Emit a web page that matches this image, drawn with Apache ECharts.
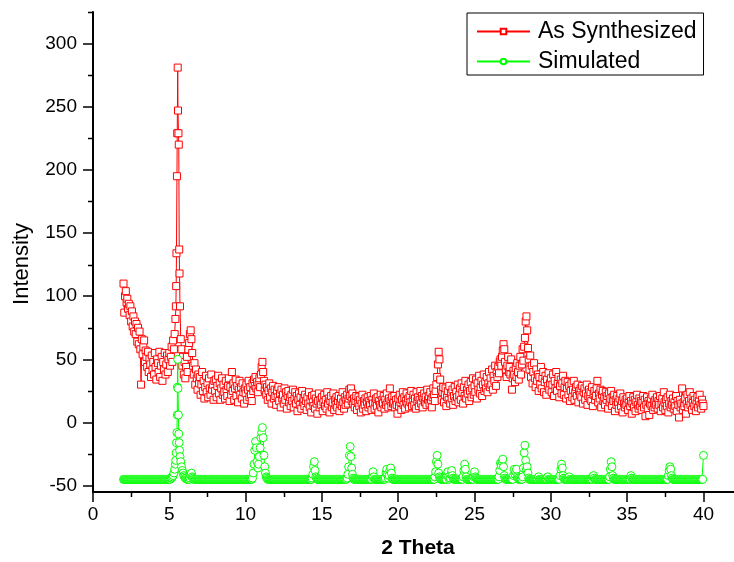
<!DOCTYPE html>
<html>
<head>
<meta charset="utf-8">
<script src="https://cdn.jsdelivr.net/npm/echarts@6/dist/echarts.min.js"></script>
<style>
html, body { margin: 0; padding: 0; background: #fff; }
#chart { width: 734px; height: 562px; }
</style>
</head>
<body>
<div id="chart"></div>
<script>
// Powder pattern sampled every 0.05 deg 2-theta from 2.00 to 40.00
const thetaStart = 2.0;
const thetaStep = 0.05;

// Measured pattern, one row per degree (20 samples per row)
const synthesized = [
  110, 87, 100, 104, 95, 98, 90, 94, 85, 92, 80, 88, 76, 84, 72, 80, 70, 78, 64, 75,
  62, 72, 58, 30, 66, 54, 60, 65, 48, 57, 52, 44, 56, 40, 50, 46, 36, 53, 42, 48,
  38, 55, 44, 34, 50, 47, 40, 56, 36, 45, 52, 33, 48, 42, 55, 38, 46, 53, 40, 50,
  55, 45, 52, 60, 48, 65, 58, 70, 82, 108, 195, 281, 229, 137, 92, 66, 58, 45, 52, 38,
  48, 35, 44, 52, 40, 58, 63, 70, 73, 66, 55, 45, 38, 47, 30, 42, 35, 26, 38, 31,
  36, 22, 30, 40, 25, 33, 19, 28, 37, 24, 31, 20, 35, 27, 22, 38, 26, 30, 18, 33,
  25, 34, 20, 29, 37, 23, 31, 18, 27, 35, 22, 30, 24, 19, 33, 26, 21, 29, 35, 17,
  28, 22, 40, 25, 31, 18, 27, 34, 21, 29, 16, 26, 33, 22, 28, 19, 31, 24, 15, 27,
  23, 30, 18, 26, 33, 20, 28, 22, 17, 31, 25, 34, 29, 36, 27, 32, 24, 30, 35, 28,
  38, 44, 48, 40, 33, 26, 30, 22, 28, 18, 25, 31, 20, 27, 15, 24, 29, 19, 26, 21,
  14, 25, 20, 28, 17, 23, 12, 26, 19, 22, 15, 27, 18, 24, 11, 21, 25, 16, 20, 13,
  22, 17, 26, 12, 19, 24, 15, 21, 9, 18, 23, 14, 20, 11, 25, 16, 19, 13, 22, 17,
  10, 20, 15, 24, 12, 18, 8, 21, 16, 13, 22, 11, 19, 15, 7, 17, 23, 12, 18, 14,
  20, 9, 16, 22, 13, 18, 11, 24, 15, 19, 8, 17, 21, 12, 16, 23, 10, 18, 14, 20,
  12, 17, 21, 9, 15, 19, 13, 24, 16, 11, 20, 14, 18, 22, 15, 19, 26, 21, 27, 17,
  23, 15, 19, 12, 17, 21, 10, 16, 20, 13, 18, 8, 15, 22, 11, 17, 14, 19, 9, 16,
  20, 12, 17, 14, 21, 10, 18, 15, 23, 11, 16, 19, 13, 20, 8, 17, 14, 22, 12, 18,
  15, 21, 11, 18, 14, 23, 16, 12, 19, 27, 17, 13, 20, 15, 16, 21, 12, 18, 14, 7,
  19, 13, 22, 16, 10, 18, 24, 14, 20, 11, 17, 23, 15, 19, 12, 21, 16, 25, 13, 18,
  22, 14, 19, 11, 24, 17, 20, 13, 18, 25, 15, 21, 12, 19, 23, 16, 20, 14, 26, 18,
  21, 15, 24, 18, 12, 20, 27, 22, 17, 25, 30, 36, 46, 56, 50, 34, 26, 18, 24, 28,
  16, 22, 27, 13, 20, 25, 18, 29, 15, 23, 19, 26, 14, 21, 28, 17, 24, 20, 30, 16,
  22, 27, 18, 31, 24, 15, 28, 21, 33, 19, 26, 23, 30, 17, 25, 32, 20, 27, 35, 22,
  29, 24, 34, 19, 31, 26, 37, 23, 28, 33, 21, 30, 38, 25, 32, 27, 36, 24, 31, 40,
  28, 35, 30, 42, 26, 37, 33, 45, 29, 40, 36, 44, 39, 48, 50, 45, 52, 57, 62, 58,
  48, 42, 36, 45, 52, 40, 44, 38, 50, 26, 35, 41, 38, 32, 43, 36, 47, 40, 34, 45,
  52, 38, 46, 58, 49, 60, 67, 80, 84, 73, 59, 50, 42, 53, 36, 45, 31, 40, 47, 35,
  28, 42, 33, 38, 25, 36, 30, 44, 27, 35, 40, 24, 32, 37, 22, 34, 29, 39, 26, 31,
  35, 24, 30, 38, 21, 33, 27, 40, 25, 31, 36, 20, 29, 34, 23, 31, 37, 22, 28, 33,
  19, 27, 32, 22, 29, 17, 25, 31, 20, 26, 33, 18, 24, 28, 21, 30, 16, 25, 22, 27,
  20, 29, 15, 24, 27, 18, 23, 30, 14, 21, 26, 19, 24, 17, 28, 13, 22, 25, 18, 21,
  27, 33, 16, 23, 19, 26, 12, 22, 25, 17, 20, 14, 24, 18, 21, 11, 23, 16, 19, 25,
  13, 20, 17, 22, 9, 18, 14, 21, 16, 11, 19, 23, 13, 17, 8, 20, 15, 12, 18, 14,
  19, 10, 16, 21, 13, 17, 7, 15, 20, 12, 18, 9, 16, 22, 14, 11, 19, 13, 17, 10,
  16, 21, 12, 18, 5, 14, 20, 11, 17, 6, 15, 19, 13, 22, 10, 16, 12, 18, 14, 20,
  11, 17, 14, 21, 9, 15, 19, 12, 24, 16, 10, 18, 13, 20, 8, 15, 22, 12, 17, 14,
  19, 11, 16, 13, 21, 9, 17, 14, 4, 18, 12, 15, 27, 10, 16, 13, 19, 7, 15, 22,
  12, 17, 24, 14, 19, 10, 16, 21, 13, 18, 9, 15, 20, 12, 17, 22, 14, 11, 18, 15,
  13
];
// Extra readings across the sharp low-angle reflection
const synthesizedPeakX = [5.43, 5.47, 5.52, 5.57, 5.62, 5.67];
const synthesizedPeakY = [92, 134, 229, 247, 220, 118];

// Simulated pattern, offset to a -45 baseline, same sampling
const simulated = [
  -45, -45, -45, -45, -45, -45, -45, -45, -45, -45, -45, -45, -45, -45, -45, -45, -45, -45, -45, -45,
  -45, -45, -45, -45, -45, -45, -45, -45, -45, -45, -45, -45, -45, -45, -45, -45, -45, -45, -45, -45,
  -45, -45, -45, -45, -45, -45, -45, -45, -45, -45, -45, -45, -45, -45, -45, -45, -45, -45, -45, -45,
  -45, -45, -44, -44, -43, -42, -40, -37, -33, -24, -8, 50, 6, -16, -27, -31, -35, -38, -40, -42,
  -43, -44, -44, -45, -45, -45, -45, -44, -42, -40, -43, -44, -45, -45, -45, -45, -45, -45, -45, -45,
  -45, -45, -45, -45, -45, -45, -45, -45, -45, -45, -45, -45, -45, -45, -45, -45, -45, -45, -45, -45,
  -45, -45, -45, -45, -45, -45, -45, -45, -45, -45, -45, -45, -45, -45, -45, -45, -45, -45, -45, -45,
  -45, -45, -45, -45, -45, -45, -45, -45, -45, -45, -45, -45, -45, -45, -45, -45, -45, -45, -45, -45,
  -45, -45, -45, -45, -45, -45, -45, -45, -45, -44, -40, -33, -22, -15, -20, -31, -36, -33, -27, -20,
  -12, -8, -4, -12, -26, -35, -40, -43, -44, -45, -45, -45, -45, -45, -45, -45, -45, -45, -45, -45,
  -45, -45, -45, -45, -45, -45, -45, -45, -45, -45, -45, -45, -45, -45, -45, -45, -45, -45, -45, -45,
  -45, -45, -45, -45, -45, -45, -45, -45, -45, -45, -45, -45, -45, -45, -45, -45, -45, -45, -45, -45,
  -45, -45, -45, -45, -45, -45, -45, -44, -41, -35, -31, -38, -43, -44, -45, -45, -45, -45, -45, -45,
  -45, -45, -45, -45, -45, -45, -45, -45, -45, -45, -45, -45, -45, -45, -45, -45, -45, -45, -45, -45,
  -45, -45, -45, -45, -45, -45, -45, -45, -45, -45, -45, -45, -45, -44, -41, -35, -26, -19, -27, -36,
  -41, -44, -45, -45, -45, -45, -45, -45, -45, -45, -45, -45, -45, -45, -45, -45, -45, -45, -45, -45,
  -45, -45, -45, -45, -45, -45, -43, -39, -43, -45, -45, -45, -45, -45, -45, -45, -45, -45, -45, -45,
  -45, -45, -45, -44, -40, -37, -41, -44, -42, -38, -36, -40, -44, -45, -45, -45, -45, -45, -45, -45,
  -45, -45, -45, -45, -45, -45, -45, -45, -45, -45, -45, -45, -45, -45, -45, -45, -45, -45, -45, -45,
  -45, -45, -45, -45, -45, -45, -45, -45, -45, -45, -45, -45, -45, -45, -45, -45, -45, -45, -45, -45,
  -45, -45, -45, -45, -45, -45, -45, -45, -43, -39, -31, -26, -33, -40, -43, -44, -45, -45, -45, -45,
  -45, -45, -45, -45, -42, -39, -43, -45, -44, -41, -38, -42, -44, -45, -45, -45, -45, -45, -45, -45,
  -45, -45, -45, -45, -45, -43, -38, -33, -37, -43, -45, -45, -45, -45, -45, -45, -45, -45, -45, -43,
  -39, -43, -44, -45, -45, -45, -45, -45, -45, -45, -45, -45, -45, -45, -45, -45, -45, -45, -45, -45,
  -45, -45, -45, -45, -45, -45, -45, -45, -45, -45, -45, -45, -43, -38, -32, -34, -31, -29, -35, -42,
  -44, -45, -45, -45, -45, -45, -45, -45, -45, -45, -45, -42, -37, -41, -39, -37, -43, -44, -45, -45,
  -45, -45, -45, -43, -36, -24, -18, -30, -37, -35, -40, -44, -45, -45, -45, -45, -45, -45, -45, -45,
  -45, -45, -45, -45, -43, -45, -45, -45, -45, -45, -45, -45, -45, -45, -45, -45, -43, -45, -45, -45,
  -45, -45, -45, -45, -45, -45, -45, -45, -45, -45, -45, -45, -42, -37, -33, -36, -42, -44, -45, -45,
  -45, -45, -45, -45, -43, -45, -45, -45, -45, -45, -45, -45, -45, -45, -45, -45, -45, -45, -45, -45,
  -45, -45, -45, -45, -45, -45, -45, -45, -45, -45, -45, -45, -45, -45, -45, -43, -42, -44, -45, -45,
  -45, -45, -45, -45, -45, -45, -45, -45, -45, -45, -45, -45, -45, -45, -45, -45, -45, -43, -37, -31,
  -35, -42, -44, -45, -45, -45, -45, -45, -45, -45, -45, -45, -45, -45, -45, -45, -45, -45, -45, -45,
  -45, -45, -45, -45, -45, -42, -44, -45, -45, -45, -45, -45, -45, -45, -45, -45, -45, -45, -45, -45,
  -45, -45, -45, -45, -45, -45, -45, -45, -45, -45, -45, -45, -45, -45, -45, -45, -45, -45, -45, -45,
  -45, -45, -45, -45, -45, -45, -45, -45, -45, -45, -45, -45, -45, -45, -42, -38, -35, -37, -42, -44,
  -45, -45, -45, -45, -45, -45, -45, -45, -45, -45, -45, -45, -45, -45, -45, -45, -45, -45, -45, -45,
  -45, -45, -45, -45, -45, -45, -45, -45, -45, -45, -45, -45, -45, -45, -45, -45, -45, -45, -45, -45,
  -26
];
// Extra readings across the strongest simulated reflection
const simulatedPeakX = [5.42, 5.47, 5.52, 5.53, 5.57, 5.62, 5.67];
const simulatedPeakY = [-30, -16, 6, 28, 27, -9, -22];

// Axis ticks
const xTicks = [0, 5, 10, 15, 20, 25, 30, 35, 40];
const xMinorTicks = [2.5, 7.5, 12.5, 17.5, 22.5, 27.5, 32.5, 37.5];
const yTicks = [-50, 0, 50, 100, 150, 200, 250, 300];
const yMinorTicks = [-25, 25, 75, 125, 175, 225, 275, 325];

const FONT = '"Liberation Sans", Arial, Helvetica, sans-serif';
const X_MIN = 0, X_MAX = 42, Y_MIN = -55, Y_MAX = 325;

// Merge the regular scan with the extra peak readings, ordered by angle
function toPoints(values, extraX, extraY) {
  const pts = values.map((v, i) => [+(thetaStart + i * thetaStep).toFixed(2), v]);
  extraX.forEach((x, i) => pts.push([x, extraY[i]]));
  pts.sort((a, b) => a[0] - b[0]);
  return pts;
}

const chart = echarts.init(document.getElementById('chart'), null, { renderer: 'canvas' });

const axisBlack = { color: '#000', width: 2 };
const tickBlack = { color: '#000', width: 1.5 };

// Axis titles
const titles = [
  {
    type: 'text', x: 418, y: 548,
    style: { text: '2 Theta', fill: '#000', font: 'bold 21px ' + FONT, align: 'center', verticalAlign: 'middle' }
  },
  {
    type: 'text', x: 22, y: 264, rotation: Math.PI / 2,
    style: { text: 'Intensity', fill: '#000', font: '22px ' + FONT, align: 'center', verticalAlign: 'middle' }
  }
];

chart.setOption({
  animation: false,
  backgroundColor: '#fff',
  grid: { left: 93, top: 12, right: 0, bottom: 70, containLabel: false },
  xAxis: {
    type: 'value', min: X_MIN, max: X_MAX, position: 'bottom',
    axisLine: { show: true, onZero: false, lineStyle: axisBlack },
    axisTick: { show: true, customValues: xTicks, length: 10, lineStyle: tickBlack },
    axisLabel: { customValues: xTicks, margin: 13, color: '#000', fontSize: 19, fontFamily: FONT },
    splitLine: { show: false }
  },
  yAxis: {
    type: 'value', min: Y_MIN, max: Y_MAX, position: 'left',
    axisLine: { show: true, onZero: false, lineStyle: axisBlack },
    axisTick: { show: true, customValues: yTicks, length: 10, lineStyle: tickBlack },
    axisLabel: { customValues: yTicks, margin: 16, color: '#000', fontSize: 19, fontFamily: FONT },
    splitLine: { show: false }
  },
  legend: {
    orient: 'vertical',
    left: 467, top: 13,
    padding: [7, 7, 2, 9],
    itemWidth: 53, itemHeight: 7, itemGap: 7,
    borderColor: '#000', borderWidth: 1, borderRadius: 0,
    backgroundColor: '#fff',
    selectedMode: false,
    textStyle: { fontSize: 23, fontFamily: FONT, color: '#000', padding: [0, 0, 0, 3] },
    data: ['As Synthesized', 'Simulated']
  },
  series: [
    {
      name: 'As Synthesized',
      type: 'line',
      data: toPoints(synthesized, synthesizedPeakX, synthesizedPeakY),
      symbol: 'rect', symbolSize: 7, showAllSymbol: true,
      lineStyle: { color: '#ff0000', width: 1 },
      itemStyle: { color: '#ffffff', borderColor: '#ff0000', borderWidth: 1 },
      emphasis: { disabled: true },
      z: 2
    },
    {
      name: 'Simulated',
      type: 'line',
      data: toPoints(simulated, simulatedPeakX, simulatedPeakY),
      symbol: 'circle', symbolSize: 8, showAllSymbol: true,
      lineStyle: { color: '#00ff00', width: 1 },
      itemStyle: { color: '#ffffff', borderColor: '#00ff00', borderWidth: 1 },
      emphasis: { disabled: true },
      z: 3
    }
  ],
  graphic: titles
});

// Short minor ticks, placed through the axis scales
const baseY = chart.convertToPixel({ yAxisIndex: 0 }, Y_MIN);
const baseX = chart.convertToPixel({ xAxisIndex: 0 }, X_MIN);
const minorTicks = [];
xMinorTicks.forEach(v => {
  const px = Math.round(chart.convertToPixel({ xAxisIndex: 0 }, v)) + 0.5;
  minorTicks.push({
    type: 'line', silent: true,
    shape: { x1: px, y1: baseY, x2: px, y2: baseY + 5 },
    style: { stroke: '#000', lineWidth: 1.5 }
  });
});
yMinorTicks.forEach(v => {
  const py = Math.round(chart.convertToPixel({ yAxisIndex: 0 }, v)) + 0.5;
  minorTicks.push({
    type: 'line', silent: true,
    shape: { x1: baseX - 5, y1: py, x2: baseX, y2: py },
    style: { stroke: '#000', lineWidth: 1.5 }
  });
});
chart.setOption({ graphic: titles.concat(minorTicks) });
</script>
</body>
</html>
